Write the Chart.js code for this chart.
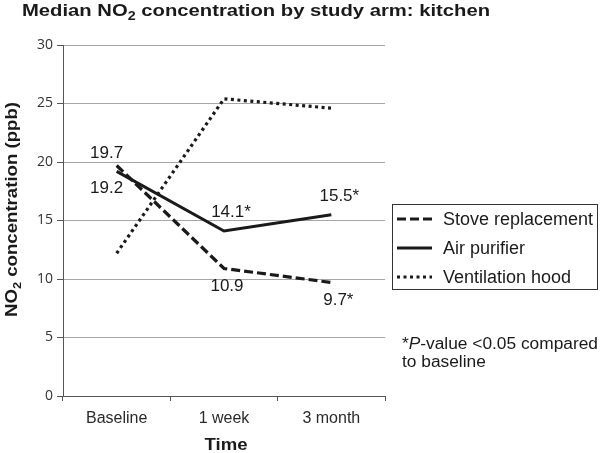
<!DOCTYPE html>
<html>
<head>
<meta charset="utf-8">
<script src="https://cdn.jsdelivr.net/npm/chart.js@4.4.1/dist/chart.umd.min.js"></script>
<style>
  html, body { margin: 0; padding: 0; background: #fff; }
  #wrap { width: 600px; height: 453px; position: relative; }
</style>
</head>
<body>
<div id="wrap"><canvas id="c" width="600" height="453"></canvas></div>
<script>
// ---- data ----
const categories = ['Baseline', '1 week', '3 month'];
const seriesNames = ['Stove replacement', 'Air purifier', 'Ventilation hood'];
const stoveValues = [19.7, 10.9, 9.7];
const purifierValues = [19.2, 14.1, 15.5];
const hoodValues = [12.2, 25.4, 24.6];
const stoveSignificant = [false, false, true];
const purifierSignificant = [false, true, true];
const yTicks = [0, 5, 10, 15, 20, 25, 30];

// ---- styles / label placement (not data) ----
const INK = '#1a1a1a';
const labelOffsets = {
  0: [[-10, -12], [3, 18], [7, 18]],   // stove: dx, dy from point
  1: [[-10, 17], [7, -19], [8, -18]]   // purifier
};

function fitRich(ctx, segs, x, y, baseSize, bold, targetW, rot) {
  const fam = '"Liberation Sans", Arial, sans-serif';
  const fontFor = (s) => (s.italic ? 'italic ' : '') + (bold ? 'bold ' : '') + (s.sub ? Math.round(baseSize * 0.68) : baseSize) + 'px ' + fam;
  let w = 0;
  segs.forEach(s => { ctx.font = fontFor(s); s.w = ctx.measureText(s.t).width; w += s.w; });
  const sx = targetW ? targetW / w : 1;
  ctx.save();
  ctx.translate(x, y);
  if (rot) ctx.rotate(rot);
  ctx.scale(sx, 1);
  ctx.fillStyle = INK;
  ctx.textBaseline = 'alphabetic';
  ctx.textAlign = 'left';
  let cx = 0;
  segs.forEach(s => {
    ctx.font = fontFor(s);
    ctx.fillText(s.t, cx, s.sub ? baseSize * 0.25 : 0);
    cx += s.w;
  });
  ctx.restore();
  return sx;
}

const decorPlugin = {
  id: 'decor',
  afterDatasetsDraw(chart) {
    const ctx = chart.ctx;
    ctx.save();
    ctx.font = '17px "Liberation Sans", Arial, sans-serif';
    ctx.fillStyle = INK;
    ctx.textAlign = 'center';
    ctx.textBaseline = 'middle';
    const sets = [[stoveValues, stoveSignificant], [purifierValues, purifierSignificant]];
    sets.forEach(([vals, sig], di) => {
      const meta = chart.getDatasetMeta(di);
      meta.data.forEach((pt, i) => {
        const [dx, dy] = labelOffsets[di][i];
        ctx.fillText(vals[i].toFixed(1) + (sig[i] ? '*' : ''), pt.x + dx, pt.y + dy);
      });
    });
    ctx.restore();
  },
  afterDraw(chart) {
    const ctx = chart.ctx;
    // title
    fitRich(ctx, [{t: 'Median NO'}, {t: '2', sub: true}, {t: ' concentration by study arm: kitchen'}], 22, 16, 17, true, 468);
    // y axis title
    fitRich(ctx, [{t: 'NO'}, {t: '2', sub: true}, {t: ' concentration (ppb)'}], 17, 317, 16, true, 215, -Math.PI / 2);
    // x axis title
    fitRich(ctx, [{t: 'Time'}], 226 - 43 / 2, 450, 16, true, 43);
    // footnote
    const sx = fitRich(ctx, [{t: '*'}, {t: 'P', italic: true}, {t: '-value <0.05 compared'}], 402, 349, 16, false, 196);
    ctx.save();
    ctx.font = '16px "Liberation Sans", Arial, sans-serif';
    const w2 = ctx.measureText('to baseline').width * sx;
    ctx.restore();
    fitRich(ctx, [{t: 'to baseline'}], 402, 367, 16, false, w2);

    // legend
    ctx.save();
    ctx.strokeStyle = '#333';
    ctx.lineWidth = 1;
    ctx.strokeRect(392.5, 204.5, 205, 85);
    const rows = [219, 248, 277];
    chart.data.datasets.forEach((ds, i) => {
      ctx.beginPath();
      ctx.strokeStyle = ds.borderColor;
      ctx.lineWidth = ds.borderWidth;
      ctx.setLineDash(ds.borderDash || []);
      ctx.moveTo(397, rows[i]);
      ctx.lineTo(432, rows[i]);
      ctx.stroke();
      ctx.setLineDash([]);
      ctx.fillStyle = INK;
      ctx.font = '18px "Liberation Sans", Arial, sans-serif';
      ctx.textBaseline = 'middle';
      ctx.fillText(ds.label, 443, rows[i] + 1);
    });
    ctx.restore();
  }
};

new Chart(document.getElementById('c'), {
  type: 'line',
  data: {
    labels: categories,
    datasets: [
      { label: seriesNames[0], data: stoveValues, borderColor: INK, borderWidth: 3.2, borderDash: [9, 4], pointRadius: 0, tension: 0, fill: false },
      { label: seriesNames[1], data: purifierValues, borderColor: INK, borderWidth: 3, pointRadius: 0, tension: 0, fill: false },
      { label: seriesNames[2], data: hoodValues, borderColor: INK, borderWidth: 3.2, borderDash: [3, 3.5], pointRadius: 0, tension: 0, fill: false }
    ]
  },
  options: {
    responsive: false,
    animation: false,
    events: [],
    layout: { padding: { top: 45, right: 215, left: 0, bottom: 0 } },
    plugins: { legend: { display: false }, title: { display: false }, tooltip: { enabled: false } },
    scales: {
      x: {
        offset: true,
        grid: { display: true, offset: true, drawOnChartArea: false, tickLength: 5, tickColor: '#555' },
        border: { display: true, color: '#555', width: 1 },
        ticks: { color: '#2a2a2a', padding: 8, font: { family: '"Liberation Sans", Arial, sans-serif', size: 16 } },
        afterFit(s) { s.height = 57; }
      },
      y: {
        min: 0, max: 30,
        afterBuildTicks(s) { s.ticks = yTicks.map(v => ({ value: v })); },
        grid: { color: '#a6a6a6', lineWidth: 1, tickLength: 6, tickColor: '#555' },
        border: { display: true, color: '#555', width: 1 },
        ticks: { color: '#333', padding: 4, font: { family: '"Open Sans", sans-serif', size: 14 } },
        afterFit(s) { s.width = 63; }
      }
    }
  },
  plugins: [decorPlugin]
});
</script>
</body>
</html>
